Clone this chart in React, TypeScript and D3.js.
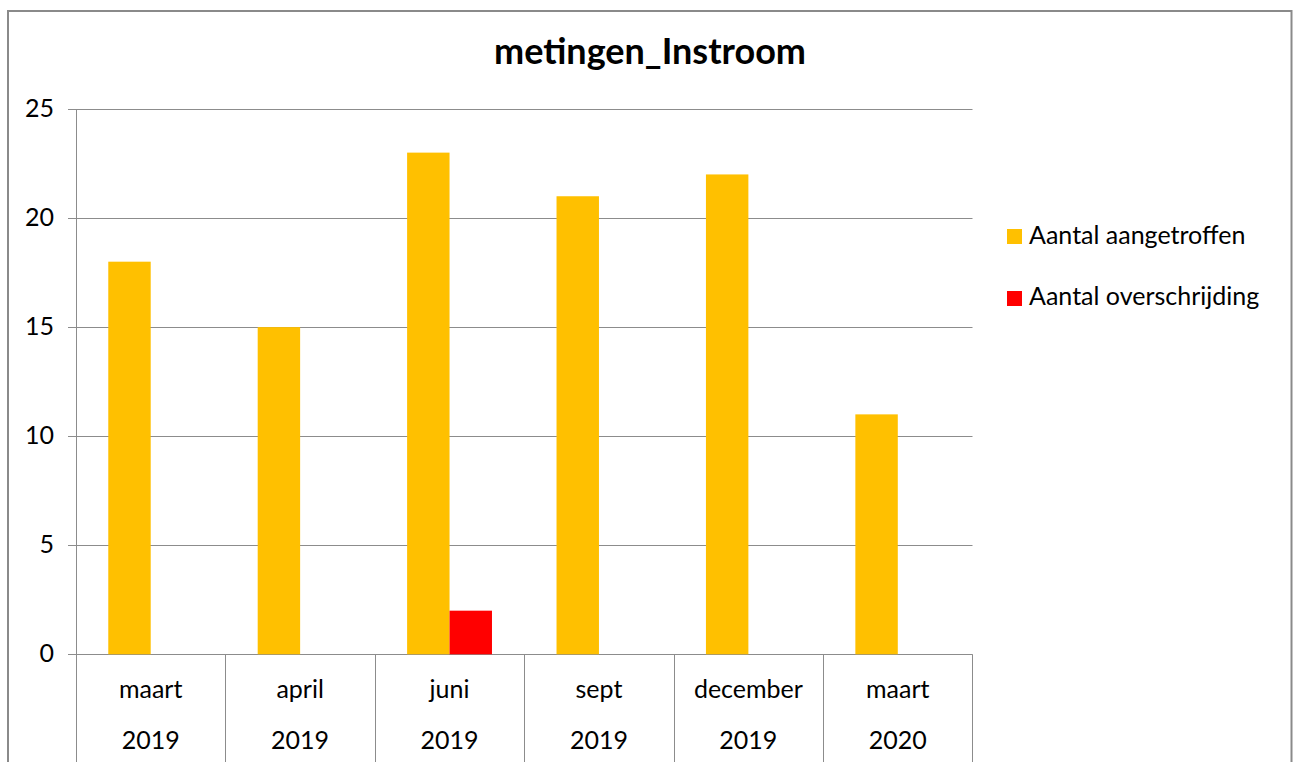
import React from "react";
import * as d3 from "d3";

const months = ["maart", "april", "juni", "sept", "december", "maart"];
const years = ["2019", "2019", "2019", "2019", "2019", "2020"];
const aangetroffen = [18, 15, 23, 21, 22, 11];
const overschrijding = [0, 0, 2, 0, 0, 0];
const yTicks = [0, 5, 10, 15, 20, 25];
const seriesNames = ["Aantal aangetroffen", "Aantal overschrijding"];
const seriesColors = ["#FFC000", "#FF0000"];

const W = 1298;
const H = 762;
const FONT = "Lato, 'Open Sans', sans-serif";

export default function App() {
  const left = 76;
  const right = 972.5;
  const top = 109;
  const bottom = 654.3;
  const cats = months.map((_, i) => String(i));
  const x = d3.scaleBand<string>().domain(cats).range([left, right]).paddingInner(0).paddingOuter(0);
  const y = d3.scaleLinear().domain([0, 25]).range([bottom, top]);
  const bw = x.bandwidth();
  const barW = bw * 0.284;
  const series = [aangetroffen, overschrijding];

  return (
    <svg width={W} height={H} style={{ position: "absolute", left: 0, top: 0, background: "#fff" }}>
      <rect x={8} y={11} width={1283.5} height={H} fill="#fff" stroke="#8a8a8a" strokeWidth={2} />
      <text x={650} y={64} textAnchor="middle" fontFamily={FONT} fontWeight="bold" fontSize={36} fill="#000">
        metingen_Instroom
      </text>
      {yTicks.map((t) => (
        <g key={t}>
          <line x1={68} x2={right} y1={Math.round(y(t)) + 0.5} y2={Math.round(y(t)) + 0.5} stroke="#8c8c8c" strokeWidth={1} />
          <text x={54} y={y(t) + 8} textAnchor="end" fontFamily={FONT} fontSize={25} fill="#000">
            {t}
          </text>
        </g>
      ))}
      <line x1={left + 0.5} x2={left + 0.5} y1={top} y2={H} stroke="#8c8c8c" strokeWidth={1} />
      {cats.map((c, i) => (
        <line key={c} x1={Math.round(x(c)! + bw) + 0.5} x2={Math.round(x(c)! + bw) + 0.5} y1={bottom} y2={H} stroke="#8c8c8c" strokeWidth={1} />
      ))}
      {series.map((vals, s) =>
        vals.map((v, i) => {
          const cx = x(cats[i])! + bw / 2;
          const bx = s === 0 ? cx - barW : cx;
          if (v <= 0) return null;
          return <rect key={`${s}-${i}`} x={bx} y={y(v)} width={barW} height={y(0) - y(v)} fill={seriesColors[s]} />;
        })
      )}
      {cats.map((c, i) => (
        <g key={"l" + c}>
          <text x={x(c)! + bw / 2} y={698} textAnchor="middle" fontFamily={FONT} fontSize={25} fill="#000">
            {months[i]}
          </text>
          <text x={x(c)! + bw / 2} y={749} textAnchor="middle" fontFamily={FONT} fontSize={25} fill="#000">
            {years[i]}
          </text>
        </g>
      ))}
      {seriesNames.map((n, i) => (
        <g key={n}>
          <rect x={1007} y={229 + i * 62} width={15} height={15} fill={seriesColors[i]} />
          <text x={1029} y={244 + i * 61} fontFamily={FONT} fontSize={25} fill="#000">
            {n}
          </text>
        </g>
      ))}
    </svg>
  );
}
